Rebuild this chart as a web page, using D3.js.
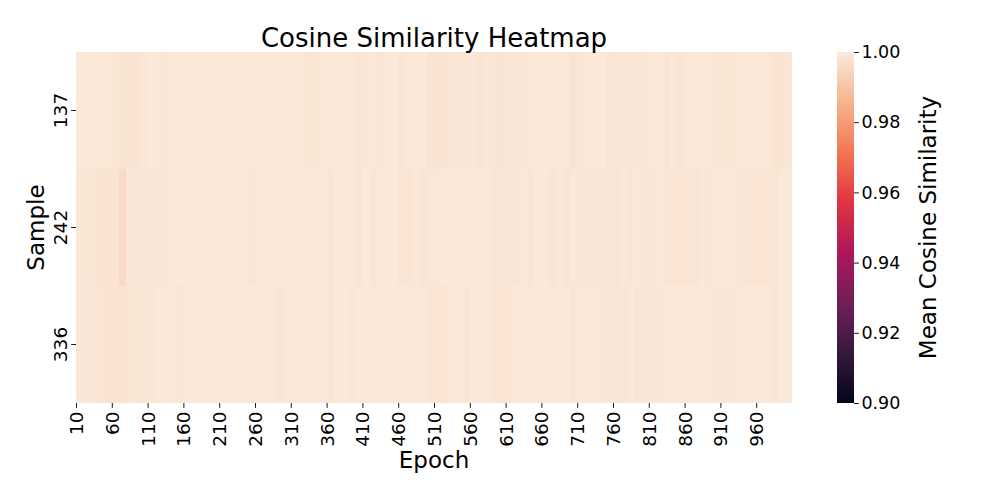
<!DOCTYPE html>
<html><head><meta charset="utf-8">
<script src="https://cdn.jsdelivr.net/npm/d3@7"></script>
<style>body{margin:0;background:#fff}svg{display:block}text{font-family:"DejaVu Sans",sans-serif;fill:#000}</style>
</head><body><svg id="c" width="997" height="498"></svg>
<script>
const samples = ["137", "242", "336"];
const epochs = [10,20,30,40,50,60,70,80,90,100,110,120,130,140,150,160,170,180,190,200,210,220,230,240,250,260,270,280,290,300,310,320,330,340,350,360,370,380,390,400,410,420,430,440,450,460,470,480,490,500,510,520,530,540,550,560,570,580,590,600,610,620,630,640,650,660,670,680,690,700,710,720,730,740,750,760,770,780,790,800,810,820,830,840,850,860,870,880,890,900,910,920,930,940,950,960,970,980,990,1000];
const sim137 = [0.9993,0.9993,0.9990,0.9990,0.9990,0.9988,0.9978,0.9984,0.9980,0.9986,0.9996,0.9996,0.9986,0.9992,0.9991,0.9992,0.9993,0.9992,0.9991,0.9992,0.9992,0.9993,0.9992,0.9991,0.9992,0.9992,0.9991,0.9992,0.9993,0.9992,0.9992,0.9991,0.9985,0.9986,0.9991,0.9991,0.9992,0.9991,0.9990,0.9983,0.9989,0.9989,0.9983,0.9995,0.9995,0.9983,0.9995,0.9995,0.9994,0.9980,0.9980,0.9982,0.9987,0.9987,0.9986,0.9987,0.9981,0.9987,0.9986,0.9981,0.9987,0.9987,0.9986,0.9993,0.9993,0.9992,0.9992,0.9990,0.9990,0.9982,0.9990,0.9990,0.9990,0.9993,0.9983,0.9987,0.9987,0.9987,0.9987,0.9987,0.9991,0.9991,0.9983,0.9994,0.9983,0.9990,0.9990,0.9990,0.9990,0.9986,0.9986,0.9986,0.9994,0.9990,0.9990,0.9990,0.9990,0.9982,0.9982,0.9986];
const sim242 = [0.9990,0.9986,0.9986,0.9978,0.9980,0.9980,0.9955,0.9990,0.9987,0.9987,0.9989,0.9987,0.9987,0.9992,0.9992,0.9991,0.9992,0.9992,0.9993,0.9992,0.9991,0.9992,0.9992,0.9992,0.9984,0.9992,0.9992,0.9991,0.9992,0.9992,0.9992,0.9993,0.9992,0.9992,0.9992,0.9985,0.9992,0.9992,0.9991,0.9985,0.9991,0.9985,0.9995,0.9995,0.9995,0.9984,0.9984,0.9989,0.9985,0.9989,0.9989,0.9995,0.9995,0.9995,0.9995,0.9995,0.9995,0.9995,0.9988,0.9988,0.9988,0.9983,0.9995,0.9983,0.9995,0.9995,0.9984,0.9994,0.9984,0.9994,0.9988,0.9988,0.9988,0.9983,0.9983,0.9983,0.9994,0.9988,0.9994,0.9988,0.9983,0.9994,0.9983,0.9983,0.9983,0.9983,0.9983,0.9994,0.9988,0.9994,0.9994,0.9994,0.9988,0.9983,0.9983,0.9983,0.9983,0.9983,0.9992,0.9992];
const sim336 = [0.9990,0.9988,0.9988,0.9985,0.9978,0.9978,0.9980,0.9988,0.9986,0.9984,0.9986,0.9995,0.9995,0.9989,0.9984,0.9992,0.9992,0.9992,0.9993,0.9992,0.9992,0.9991,0.9992,0.9992,0.9992,0.9993,0.9992,0.9992,0.9985,0.9992,0.9992,0.9992,0.9992,0.9992,0.9992,0.9985,0.9992,0.9992,0.9988,0.9992,0.9992,0.9995,0.9995,0.9995,0.9995,0.9995,0.9995,0.9995,0.9995,0.9984,0.9984,0.9984,0.9991,0.9991,0.9984,0.9995,0.9995,0.9995,0.9985,0.9985,0.9985,0.9991,0.9991,0.9991,0.9991,0.9995,0.9995,0.9992,0.9992,0.9984,0.9995,0.9995,0.9995,0.9988,0.9988,0.9988,0.9984,0.9995,0.9984,0.9988,0.9988,0.9988,0.9995,0.9995,0.9995,0.9995,0.9995,0.9995,0.9995,0.9988,0.9988,0.9988,0.9995,0.9995,0.9995,0.9995,0.9995,0.9984,0.9991,0.9991];
const epochTicks = [10,60,110,160,210,260,310,360,410,460,510,560,610,660,710,760,810,860,910,960];
const cbarTicks = [0.90,0.92,0.94,0.96,0.98,1.00];
const rocketStops = ["#03051a","#35193e","#701f57","#ad1759","#e13342","#f37651","#f6b48f","#faebdd"];

const rows = [sim137, sim242, sim336];
const svg = d3.select("#c");
const L = 76, R = 792, T = 52, B = 403;
const vmin = 0.9, vmax = 1.0;
const TF = 18.5, CF = 17.5;
const color = d3.scaleLinear()
  .domain(rocketStops.map((_, i) => vmin + (vmax - vmin) * i / (rocketStops.length - 1)))
  .range(rocketStops).interpolate(d3.interpolateRgb).clamp(true);

const step = epochs[1] - epochs[0];
const x = d3.scaleLinear().domain([epochs[0], epochs[epochs.length - 1] + step]).range([L, R]);
const y = d3.scaleBand().domain(samples).range([T, B]);

const cells = [];
samples.forEach((s, i) => rows[i].forEach((v, j) => cells.push({s, e: epochs[j], v})));
svg.append("g").selectAll("rect").data(cells).join("rect")
  .attr("x", d => x(d.e)).attr("width", d => x(d.e + step) - x(d.e) + 0.4)
  .attr("y", d => y(d.s)).attr("height", y.bandwidth() + 0.4)
  .attr("fill", d => color(d.v)).attr("shape-rendering", "crispEdges");

// x axis
const xa = svg.append("g").attr("transform", `translate(0,${B})`)
  .call(d3.axisBottom(x).tickValues(epochTicks).tickFormat(d3.format("d")).tickSize(4.9).tickPadding(4.5));
xa.select(".domain").remove();
xa.selectAll(".tick line").attr("stroke", "#000").attr("stroke-width", 0.9);
xa.selectAll(".tick text").style("font-size", TF + "px")
  .attr("transform", "rotate(-90)").attr("text-anchor", "end")
  .attr("x", -8.5).attr("y", 0).attr("dy", "0.35em");

// y axis
const ya = svg.append("g").attr("transform", `translate(${L},0)`)
  .call(d3.axisLeft(y).tickSize(4.9).tickPadding(4.5));
ya.select(".domain").remove();
ya.selectAll(".tick line").attr("stroke", "#000").attr("stroke-width", 0.9);
ya.selectAll(".tick text").style("font-size", TF + "px")
  .attr("transform", "rotate(-90)").attr("text-anchor", "middle")
  .attr("x", 0).attr("y", -9.3).attr("dy", 0);

// title & labels
svg.append("text").attr("x", (L + R) / 2).attr("y", 47).attr("text-anchor", "middle")
  .style("font-size", "26px").text("Cosine Similarity Heatmap");
svg.append("text").attr("x", (L + R) / 2).attr("y", 468).attr("text-anchor", "middle")
  .style("font-size", "23px").text("Epoch");
svg.append("text").attr("transform", `translate(44,${(T + B) / 2}) rotate(-90)`).attr("text-anchor", "middle")
  .style("font-size", "23px").text("Sample");

// colorbar
const cbL = 837, cbR = 854;
const cy = d3.scaleLinear().domain([vmin, vmax]).range([B, T]);
const grad = svg.append("defs").append("linearGradient").attr("id", "cbg")
  .attr("x1", 0).attr("y1", 1).attr("x2", 0).attr("y2", 0);
d3.range(0, 1.0001, 0.02).forEach(t => grad.append("stop")
  .attr("offset", t).attr("stop-color", color(vmin + t * (vmax - vmin))));
svg.append("rect").attr("x", cbL).attr("y", T).attr("width", cbR - cbL).attr("height", B - T).attr("fill", "url(#cbg)");
const ca = svg.append("g").attr("transform", `translate(${cbR},0)`)
  .call(d3.axisRight(cy).tickValues(cbarTicks).tickFormat(d3.format(".2f")).tickSize(4.9).tickPadding(2.5));
ca.select(".domain").remove();
ca.selectAll(".tick line").attr("stroke", "#000").attr("stroke-width", 0.9);
ca.selectAll(".tick text").style("font-size", CF + "px");
svg.append("text").attr("transform", `translate(936,${(T + B) / 2}) rotate(-90)`).attr("text-anchor", "middle")
  .style("font-size", "23px").text("Mean Cosine Similarity");
</script></body></html>
